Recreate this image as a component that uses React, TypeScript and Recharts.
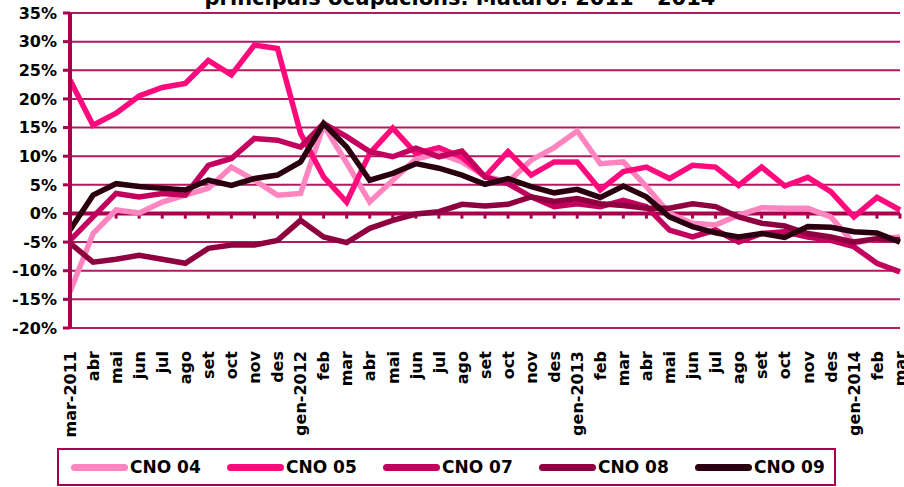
import { LineChart, Line, XAxis, YAxis, CartesianGrid, ReferenceLine } from "recharts";

// mesos: mar-2011 .. mar-2014
const months = [
  "mar-2011", "abr", "mai", "jun", "jul", "ago", "set", "oct", "nov", "des",
  "gen-2012", "feb", "mar", "abr", "mai", "jun", "jul", "ago", "set", "oct", "nov", "des",
  "gen-2013", "feb", "mar", "abr", "mai", "jun", "jul", "ago", "set", "oct", "nov", "des",
  "gen-2014", "feb", "mar",
];

const cno04 = [
  -13.7, -3.5, 0.6, 0.1, 2.0, 3.2, 4.4, 8.1, 5.8, 3.2,
  3.5, 15.4, 8.8, 2.0, 5.8, 9.5, 10.5, 9.0, 6.5, 5.5, 9.3, 11.5,
  14.4, 8.7, 9.0, 4.7, 0.0, -1.7, -2.0, -0.3, 1.0, 0.9, 0.9, -0.6,
  -5.2, -4.4, -4.1,
];

const cno05 = [
  23.3, 15.4, 17.5, 20.5, 22.0, 22.7, 26.7, 24.2, 29.4, 28.8,
  14.0, 6.4, 2.0, 10.5, 14.9, 10.5, 11.5, 9.8, 6.4, 10.8, 6.7, 9.0,
  9.0, 4.1, 7.3, 8.1, 6.1, 8.4, 8.1, 4.9, 8.1, 4.8, 6.3, 3.8,
  -0.6, 2.8, 0.6,
];

const cno07 = [
  -4.7, -0.6, 3.5, 2.9, 3.5, 3.2, 8.4, 9.6, 13.1, 12.8,
  11.6, 15.7, 13.4, 10.8, 9.9, 11.4, 9.9, 10.9, 6.4, 5.2, 2.9, 1.2,
  1.7, 1.2, 2.3, 1.2, -2.9, -4.1, -2.9, -5.0, -3.5, -3.2, -4.1, -4.7,
  -5.8, -8.7, -10.2,
];

const cno08 = [
  -5.2, -8.5, -8.0, -7.3, -8.0, -8.7, -6.1, -5.5, -5.5, -4.7,
  -1.2, -4.1, -5.1, -2.6, -1.2, -0.1, 0.3, 1.6, 1.3, 1.6, 2.9, 2.1,
  2.6, 1.7, 1.4, 0.9, 0.9, 1.7, 1.2, -0.6, -1.7, -2.2, -3.5, -4.1,
  -5.0, -4.4, -4.6,
];

const cno09 = [
  -2.9, 3.2, 5.2, 4.7, 4.4, 4.1, 5.8, 4.9, 6.1, 6.7,
  9.0, 15.7, 11.6, 5.8, 7.0, 8.7, 7.9, 6.7, 5.1, 6.1, 4.7, 3.6,
  4.2, 2.8, 4.8, 2.9, -0.6, -2.3, -3.4, -4.1, -3.5, -4.2, -2.3, -2.4,
  -3.2, -3.4, -5.0,
];

const yTicks = [-20, -15, -10, -5, 0, 5, 10, 15, 20, 25, 30, 35];

const series = [
  { key: "cno04", name: "CNO 04", color: "#FF85C0", values: cno04 },
  { key: "cno05", name: "CNO 05", color: "#FF0A7C", values: cno05 },
  { key: "cno07", name: "CNO 07", color: "#C4005E", values: cno07 },
  { key: "cno08", name: "CNO 08", color: "#8F0040", values: cno08 },
  { key: "cno09", name: "CNO 09", color: "#2A0010", values: cno09 },
];

const data = months.map((m, i) => {
  const row: any = { idx: i, month: m };
  series.forEach((s) => (row[s.key] = s.values[i]));
  return row;
});

const FONT = "'DejaVu Sans', Arial, sans-serif";
const AXIS = "#A8004F";

const XTick = ({ x, y, payload }: any) => (
  <text
    x={x}
    y={y}
    dy="0.36em"
    transform={`rotate(-90, ${x}, ${y})`}
    textAnchor="end"
    fontFamily={FONT}
    fontWeight="bold"
    fontSize={16}
    fill="#000"
  >
    {months[payload.value]}
  </text>
);

const YTick = ({ x, y, payload }: any) => (
  <text x={x} y={y} dy="0.36em" textAnchor="end" fontFamily={FONT} fontWeight="bold" fontSize={16} fill="#000">
    {payload.value}%
  </text>
);

export default function App() {
  return (
    <div style={{ position: "absolute", left: 0, top: 0, width: 904, height: 487, background: "#fff", overflow: "hidden" }}>
      <div
        style={{
          position: "absolute",
          top: -13,
          left: 0,
          width: 920,
          textAlign: "center",
          fontFamily: FONT,
          fontWeight: "bold",
          fontSize: 21,
          lineHeight: "22px",
          whiteSpace: "nowrap",
        }}
      >
        principals ocupacions. Mataró. 2011 - 2014
      </div>
      <LineChart width={904} height={487} data={data} margin={{ top: 13, right: 4, bottom: 0, left: 0 }}>
        <CartesianGrid vertical={false} stroke={AXIS} strokeWidth={2} strokeOpacity={0.9} />
        <XAxis
          dataKey="idx"
          type="number"
          domain={[0, months.length - 1]}
          ticks={months.map((_, i) => i)}
          interval={0}
          height={159}
          axisLine={false}
          tickLine={false}
          tickMargin={17}
          tick={<XTick />}
        />
        <YAxis
          domain={[-20, 35]}
          ticks={yTicks}
          width={70}
          axisLine={{ stroke: AXIS, strokeWidth: 4 }}
          tickLine={{ stroke: AXIS, strokeWidth: 3 }}
          tickSize={7}
          tickMargin={6}
          tick={<YTick />}
        />
        <ReferenceLine y={0} stroke={AXIS} strokeWidth={4} />
        {months.map((_, i) => (
          <ReferenceLine
            key={"t" + i}
            segment={[
              { x: i, y: 0 },
              { x: i, y: -0.9 },
            ]}
            stroke={AXIS}
            strokeWidth={3}
          />
        ))}
        {series.map((s) => (
          <Line
            key={s.key}
            dataKey={s.key}
            name={s.name}
            stroke={s.color}
            strokeWidth={5.5}
            dot={false}
            activeDot={false}
            isAnimationActive={false}
            strokeLinejoin="miter"
          />
        ))}
      </LineChart>
      {/* llegenda */}
      <div
        style={{
          position: "absolute",
          left: 57,
          top: 448,
          width: 779,
          height: 38,
          border: `2px solid ${AXIS}`,
          boxSizing: "border-box",
          background: "#fff",
        }}
      >
        {series.map((s, i) => (
          <div
            key={s.key}
            style={{
              position: "absolute",
              left: 12 + i * 156,
              top: 0,
              height: 34,
              display: "flex",
              alignItems: "center",
            }}
          >
            <div style={{ width: 57, height: 7, borderRadius: 3.5, background: s.color }} />
            <span style={{ fontFamily: FONT, fontWeight: "bold", fontSize: 17, marginLeft: 2 }}>{s.name}</span>
          </div>
        ))}
      </div>
    </div>
  );
}
